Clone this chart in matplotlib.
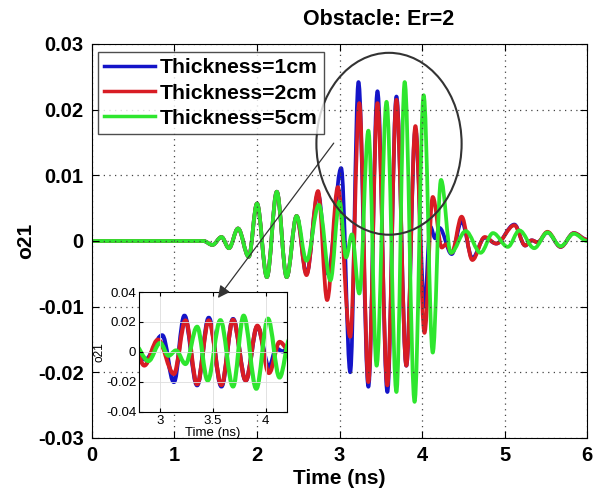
import matplotlib
matplotlib.use("Agg")
import matplotlib.pyplot as plt
from matplotlib.patches import Ellipse, PathPatch
from matplotlib.path import Path
from matplotlib.lines import Line2D

plt.rcParams['font.family'] = ['Liberation Sans', 'DejaVu Sans']

# Shared pre-pulse (all thicknesses coincide here), time in ns
early_t = [0.0, 1.35, 1.46, 1.57, 1.66, 1.77, 1.90, 2.00, 2.12, 2.24, 2.36, 2.48]
early_v = [0.0, 0.0, -0.0006, 0.0006, -0.0011, 0.0019, -0.0024, 0.0057,
           -0.0055, 0.0075, -0.0055, 0.0038]

# Thickness = 1 cm
blue_t = [2.60, 2.74, 2.86, 3.02, 3.13, 3.23, 3.35, 3.46, 3.58, 3.69, 3.81,
          3.92, 4.03, 4.10, 4.16, 4.21, 4.36, 4.48, 4.61, 4.76, 4.90, 5.12,
          5.25, 5.33, 5.40, 5.52, 5.68, 5.84, 6.00]
blue_v = [-0.0050, 0.0072, -0.0050, 0.0111, -0.0200, 0.0242, -0.0222, 0.0228,
          -0.0230, 0.0220, -0.0190, 0.0170, -0.0100, 0.0022, 0.0004, 0.0020,
          -0.0020, 0.0030, -0.0026, 0.0005, -0.0004, 0.0025, -0.0007, 0.0001,
          -0.0002, 0.0013, -0.0009, 0.0012, 0.0002]

# Thickness = 2 cm
red_t = [2.60, 2.74, 2.85, 2.98, 3.13, 3.24, 3.35, 3.46, 3.58, 3.69, 3.81,
         3.92, 4.03, 4.13, 4.24, 4.29, 4.36, 4.48, 4.61, 4.76, 4.90, 5.12,
         5.25, 5.33, 5.40, 5.52, 5.68, 5.84, 6.00]
red_v = [-0.0052, 0.0076, -0.0090, 0.0082, -0.0146, 0.0210, -0.0215, 0.0210,
         -0.0220, 0.0215, -0.0190, 0.0175, -0.0140, 0.0067, -0.0010, -0.0005,
         -0.0018, 0.0037, -0.0029, 0.0006, -0.0004, 0.0024, -0.0007, 0.0001,
         -0.0002, 0.0014, -0.0009, 0.0012, 0.0002]

# Thickness = 5 cm
green_t = [2.60, 2.75, 2.89, 3.00, 3.08, 3.15, 3.24, 3.35, 3.45, 3.57, 3.69,
           3.79, 3.91, 4.02, 4.13, 4.23, 4.35, 4.53, 4.71, 4.86, 5.04, 5.18,
           5.36, 5.52, 5.68, 5.84, 6.00]
green_v = [-0.0030, 0.0055, -0.0060, 0.0060, -0.0025, 0.0010, -0.0080, 0.0168,
           -0.0190, 0.0212, -0.0230, 0.0242, -0.0245, 0.0222, -0.0170, 0.0093,
           -0.0018, 0.0015, -0.0018, 0.0012, -0.0009, 0.0016, -0.0011, 0.0013,
           -0.0008, 0.0011, 0.0000]

labels = ['Thickness=1cm', 'Thickness=2cm', 'Thickness=5cm']
colors = ['#1414c8', '#d81c24', '#2ee62e']

series = [(early_t + blue_t, early_v + blue_v),
          (early_t + red_t, early_v + red_v),
          (early_t + green_t, early_v + green_v)]

xticks = [0, 1, 2, 3, 4, 5, 6]
yticks = [-0.03, -0.02, -0.01, 0, 0.01, 0.02, 0.03]
ytick_labels = ['-0.03', '-0.02', '-0.01', '0', '0.01', '0.02', '0.03']


def wave_path(t, v):
    """Smooth trace through the extrema: cubic segments with flat tangents."""
    verts = [(t[0], v[0])]
    codes = [Path.MOVETO]
    for i in range(len(t) - 1):
        dt = t[i + 1] - t[i]
        verts += [(t[i] + 0.36 * dt, v[i]),
                  (t[i + 1] - 0.36 * dt, v[i + 1]),
                  (t[i + 1], v[i + 1])]
        codes += [Path.CURVE4] * 3
    return Path(verts, codes)


def draw_traces(axis, lw):
    for (t, v), c in zip(series, colors):
        axis.add_patch(PathPatch(wave_path(t, v), facecolor='none',
                                 edgecolor=c, lw=lw, joinstyle='round',
                                 capstyle='round'))


fig = plt.figure(figsize=(5.95, 4.95), dpi=100)
ax = fig.add_axes([0.1546, 0.1152, 0.832, 0.796])
draw_traces(ax, 2.7)

ax.set_xlim(0, 6)
ax.set_ylim(-0.03, 0.03)
ax.set_xticks(xticks)
ax.set_yticks(yticks)
ax.set_yticklabels(ytick_labels)
ax.tick_params(direction='in', top=True, right=True, length=5,
               labelsize=14.5, pad=6)
for lbl in ax.get_xticklabels() + ax.get_yticklabels():
    lbl.set_fontweight('bold')
ax.grid(True, color='#444444', linestyle=(0, (1, 3.5)), lw=0.9)
ax.set_xlabel('Time (ns)', fontsize=15, fontweight='bold', labelpad=3)
ax.set_ylabel('o21', fontsize=15, fontweight='bold', labelpad=2)
ax.set_title('Obstacle: Er=2', fontsize=15.5, fontweight='bold', x=0.58, pad=14)

handles = [Line2D([], [], color=c, lw=2.5) for c in colors]
leg = ax.legend(handles, labels, loc='upper left', bbox_to_anchor=(0.012, 0.98),
                prop={'weight': 'bold', 'size': 15.2}, frameon=True,
                fancybox=False, edgecolor='#222222', handlelength=2.4,
                handletextpad=0.25, labelspacing=0.3, borderpad=0.3,
                borderaxespad=0.0)
leg.get_frame().set_linewidth(1.0)

# Highlight of the main burst
ax.add_patch(Ellipse((3.60, 0.0148), width=1.76, height=0.0277,
                     facecolor='none', edgecolor='#333333', lw=1.5, zorder=5))

# Zoomed inset
axin = fig.add_axes([0.2336, 0.1677, 0.2487, 0.2424])
draw_traces(axin, 3.0)
axin.set_xlim(2.8, 4.2)
axin.set_ylim(-0.04, 0.04)
axin.set_xticks([3, 3.5, 4])
axin.set_xticklabels(['3', '3.5', '4'])
axin.set_yticks([-0.04, -0.02, 0, 0.02, 0.04])
axin.set_yticklabels(['-0.04', '-0.02', '0', '0.02', '0.04'])
axin.tick_params(direction='in', top=True, right=True, length=3,
                 labelsize=9.5, pad=2)
axin.grid(True, color='#dddddd', lw=0.6)
axin.set_xlabel('Time (ns)', fontsize=9.5, labelpad=0)
axin.set_ylabel('o21', fontsize=8.5, labelpad=0)

axin.annotate('', xy=(3.547, 0.036), xycoords='data',
              xytext=(2.93, 0.0149), textcoords=ax.transData,
              arrowprops=dict(arrowstyle='-|>', color='#333333', lw=0.9,
                              mutation_scale=18, shrinkA=0, shrinkB=0))

fig.savefig('out.png', dpi=100)
